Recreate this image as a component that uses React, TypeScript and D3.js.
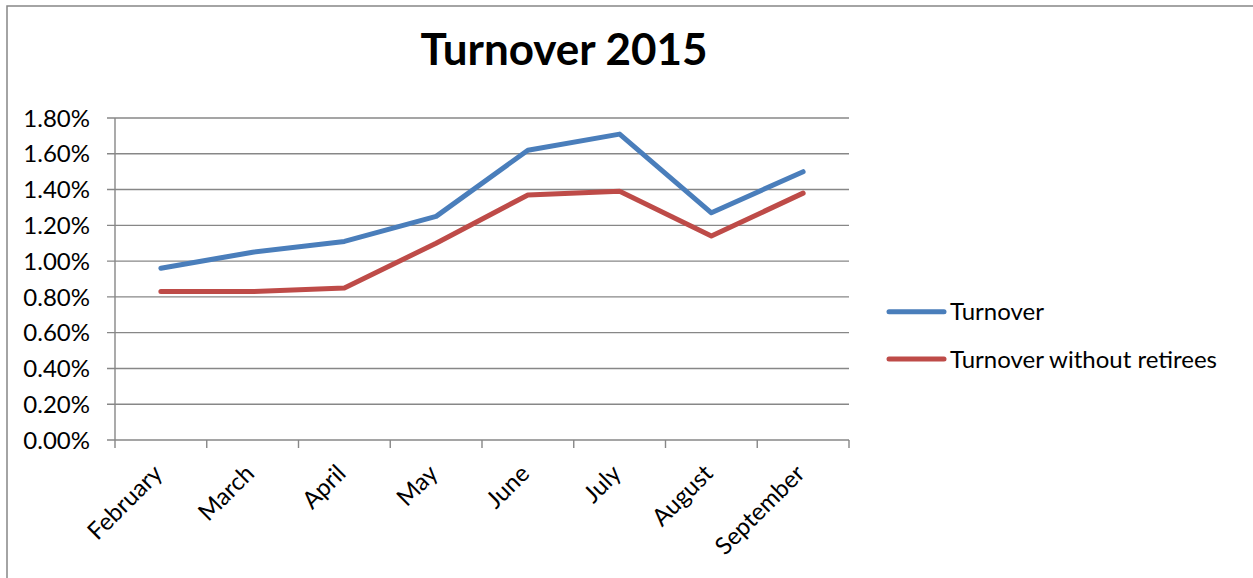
import React, { useEffect, useRef } from "react";
import * as d3 from "d3";

const months = ["February", "March", "April", "May", "June", "July", "August", "September"];
const turnover = [0.0096, 0.0105, 0.0111, 0.0125, 0.0162, 0.0171, 0.0127, 0.015];
const withoutRetirees = [0.0083, 0.0083, 0.0085, 0.011, 0.0137, 0.0139, 0.0114, 0.0138];
const yTicks = [0, 0.002, 0.004, 0.006, 0.008, 0.01, 0.012, 0.014, 0.016, 0.018];
const seriesNames = ["Turnover", "Turnover without retirees"];
const seriesColors = ["#4a7ebb", "#be4b48"];

const W = 1253;
const H = 578;
const FONT = "Lato, 'Open Sans', sans-serif";

const App = () => {
  const svgRef = useRef<SVGSVGElement>(null);

  useEffect(() => {
    const svg = d3.select(svgRef.current);
    svg.selectAll("*").remove();

    const x = d3.scaleBand().domain(months).range([115, 849]);
    const y = d3.scaleLinear().domain([0, 0.018]).range([440, 118]);
    const fmt = d3.format(".2%");
    const grey = "#878787";

    // chart frame (right/bottom edges fall outside the picture)
    svg.append("rect")
      .attr("x", 7).attr("y", 6)
      .attr("width", W + 20).attr("height", H + 20)
      .attr("fill", "none")
      .attr("stroke", grey)
      .attr("stroke-width", 1.5);

    svg.append("text")
      .attr("x", 564).attr("y", 65)
      .attr("text-anchor", "middle")
      .style("font-family", FONT)
      .style("font-weight", "bold")
      .style("font-size", "44px")
      .text("Turnover 2015");

    // gridlines + y labels
    const g = svg.append("g");
    g.selectAll("line.grid")
      .data(yTicks)
      .join("line")
      .attr("class", "grid")
      .attr("x1", 107).attr("x2", 849)
      .attr("y1", (d) => y(d)).attr("y2", (d) => y(d))
      .attr("stroke", grey)
      .attr("stroke-width", 1.4);

    g.selectAll("text.ylab")
      .data(yTicks)
      .join("text")
      .attr("class", "ylab")
      .attr("x", 90)
      .attr("y", (d) => y(d))
      .attr("dy", "0.36em")
      .attr("text-anchor", "end")
      .style("font-family", FONT)
      .style("font-size", "24px")
      .text((d) => fmt(d));

    // y axis line
    g.append("line")
      .attr("x1", 115).attr("x2", 115)
      .attr("y1", y(0.018)).attr("y2", y(0))
      .attr("stroke", grey).attr("stroke-width", 1.4);

    // x axis ticks at category boundaries
    const bounds = months.map((m) => x(m) as number).concat([849]);
    g.selectAll("line.xtick")
      .data(bounds)
      .join("line")
      .attr("class", "xtick")
      .attr("x1", (d) => d).attr("x2", (d) => d)
      .attr("y1", y(0)).attr("y2", y(0) + 8)
      .attr("stroke", grey).attr("stroke-width", 1.4);

    const bw = x.bandwidth();
    g.selectAll("text.xlab")
      .data(months)
      .join("text")
      .attr("class", "xlab")
      .attr("text-anchor", "end")
      .attr("transform", (d) => `translate(${(x(d) as number) + bw / 2 + 3}, 475) rotate(-45)`)
      .style("font-family", FONT)
      .style("font-size", "24px")
      .text((d) => d);

    const series = [turnover, withoutRetirees];
    const line = d3
      .line<number>()
      .x((_, i) => (x(months[i]) as number) + bw / 2)
      .y((d) => y(d));

    series.forEach((s, i) => {
      g.append("path")
        .datum(s)
        .attr("fill", "none")
        .attr("stroke", seriesColors[i])
        .attr("stroke-width", 5)
        .attr("stroke-linecap", "round")
        .attr("stroke-linejoin", "round")
        .attr("d", line);
    });

    // legend
    const legendY = [311.7, 359];
    seriesNames.forEach((name, i) => {
      g.append("line")
        .attr("x1", 889).attr("x2", 944)
        .attr("y1", legendY[i]).attr("y2", legendY[i])
        .attr("stroke", seriesColors[i])
        .attr("stroke-width", 5)
        .attr("stroke-linecap", "round");
      g.append("text")
        .attr("x", 950)
        .attr("y", legendY[i])
        .attr("dy", "0.36em")
        .style("font-family", FONT)
        .style("font-size", "24px")
        .text(name);
    });
  }, []);

  return (
    <svg
      ref={svgRef}
      width={W}
      height={H}
      style={{ position: "absolute", left: 0, top: 0, background: "#fff" }}
    ></svg>
  );
};

export default App;
